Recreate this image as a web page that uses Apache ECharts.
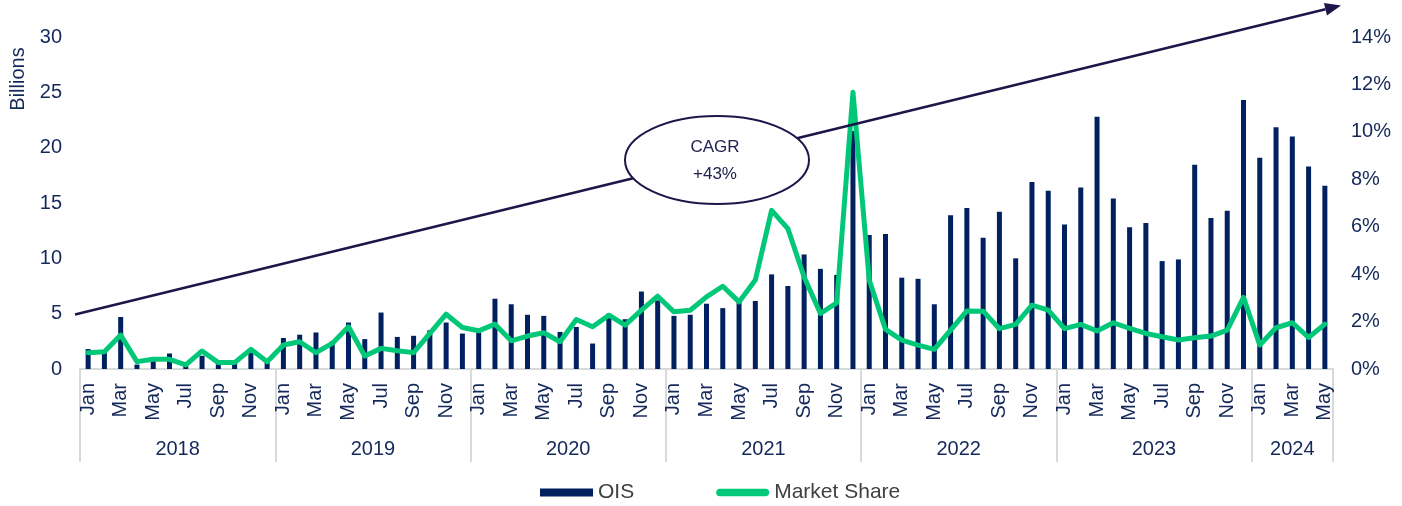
<!DOCTYPE html>
<html>
<head>
<meta charset="utf-8">
<script src="https://cdn.jsdelivr.net/npm/echarts@6/dist/echarts.min.js"></script>
<style>
  html, body { margin: 0; padding: 0; background: #fff; }
  #chart { width: 1402px; height: 506px; }
</style>
</head>
<body>
<div id="chart"></div>
<script>
// month axis: Jan 2018 .. May 2024
const years = ['2018', '2019', '2020', '2021', '2022', '2023', '2024'];
const monthNames = ['Jan', 'Feb', 'Mar', 'Apr', 'May', 'Jun', 'Jul', 'Aug', 'Sep', 'Oct', 'Nov', 'Dec'];
const monthsIn2024 = 5;

// OIS volume, billions
const ois2018 = [1.8, 1.5, 4.7, 0.4, 1.0, 1.4, 0.3, 1.2, 0.8, 0.8, 1.5, 0.6];
const ois2019 = [2.8, 3.1, 3.3, 2.5, 4.2, 2.7, 5.1, 2.9, 3.0, 3.5, 4.2, 3.2];
const ois2020 = [3.3, 6.35, 5.85, 4.9, 4.8, 3.35, 3.8, 2.3, 5.0, 4.5, 7.0, 6.2];
const ois2021 = [4.8, 4.9, 5.9, 5.5, 6.0, 6.15, 8.55, 7.5, 10.35, 9.05, 8.5, 21.5];
const ois2022 = [12.1, 12.2, 8.25, 8.15, 5.85, 13.9, 14.55, 11.85, 14.2, 10.0, 16.9, 16.1];
const ois2023 = [13.05, 16.4, 22.8, 15.4, 12.8, 13.2, 9.75, 9.9, 18.45, 13.65, 14.3, 24.3];
const ois2024 = [19.1, 21.85, 21.0, 18.3, 16.55];

// market share, %
const share2018 = [0.69, 0.73, 1.43, 0.31, 0.41, 0.41, 0.17, 0.76, 0.27, 0.27, 0.83, 0.31];
const share2019 = [1.01, 1.15, 0.69, 1.08, 1.78, 0.55, 0.87, 0.77, 0.69, 1.50, 2.31, 1.75];
const share2020 = [1.61, 1.89, 1.19, 1.39, 1.53, 1.15, 2.09, 1.78, 2.27, 1.85, 2.48, 3.07];
const share2021 = [2.41, 2.48, 3.04, 3.49, 2.83, 3.75, 6.69, 5.92, 3.88, 2.34, 2.79, 11.67];
const share2022 = [3.75, 1.67, 1.22, 1.01, 0.83, 1.64, 2.45, 2.44, 1.70, 1.88, 2.69, 2.48];
const share2023 = [1.70, 1.88, 1.60, 1.95, 1.71, 1.50, 1.36, 1.22, 1.32, 1.39, 1.64, 3.02];
const share2024 = [1.01, 1.74, 1.95, 1.33, 1.89];

const leftTicks = { min: 0, max: 30, interval: 5 };
const rightTicks = { min: 0, max: 14, interval: 2 };
const cagrText = 'CAGR\n+43%';

const categories = [];
years.forEach((y) => {
  const n = y === '2024' ? monthsIn2024 : 12;
  for (let m = 0; m < n; m++) categories.push(monthNames[m] + ' ' + y);
});
const ois = [].concat(ois2018, ois2019, ois2020, ois2021, ois2022, ois2023, ois2024);
const share = [].concat(share2018, share2019, share2020, share2021, share2022, share2023, share2024);

const NAVY = '#002060';
const INK = '#14285a';
const GREEN = '#00c878';
const ARROW = '#1d1649';
const FONT = 'Liberation Sans, Arial, sans-serif';

// arrow geometry (annotation)
const a0 = [75, 314.5], tip = [1341, 5.5];
const dx = tip[0] - a0[0], dy = tip[1] - a0[1];
const len = Math.hypot(dx, dy);
const ux = dx / len, uy = dy / len;
const headLen = 16, headHalf = 6.5;
const base = [tip[0] - headLen * ux, tip[1] - headLen * uy];

const chart = echarts.init(document.getElementById('chart'));
chart.setOption({
  backgroundColor: '#fff',
  animation: false,
  textStyle: { fontFamily: FONT },
  grid: { left: 80, right: 69, top: 37, bottom: 137, containLabel: false },
  legend: {
    left: 540,
    top: 482,
    padding: 0,
    itemWidth: 53,
    itemHeight: 8,
    itemGap: 82,
    textStyle: { fontSize: 21, color: '#404040', fontFamily: FONT },
    data: [
      { name: 'OIS', icon: 'rect' },
      { name: 'Market Share', icon: 'path://M4,0 L52,0 A4,4 0 0 1 52,8 L4,8 A4,4 0 0 1 4,0 Z' },
    ],
  },
  xAxis: [
    {
      type: 'category',
      data: categories,
      axisLine: { lineStyle: { color: '#d9d9d9', width: 2 } },
      axisTick: {
        show: true,
        length: 93,
        interval: (i) => i % 12 === 0,
        lineStyle: { color: '#d9d9d9', width: 2 },
      },
      axisLabel: {
        interval: 1,
        rotate: 90,
        margin: 14,
        fontSize: 20,
        color: INK,
        fontFamily: FONT,
        formatter: (v) => v.split(' ')[0],
      },
    },
    {
      type: 'category',
      data: categories,
      position: 'bottom',
      axisLine: { show: false },
      axisTick: { show: false },
      axisLabel: {
        interval: 0,
        margin: 70,
        fontSize: 20,
        color: INK,
        fontFamily: FONT,
        formatter: (v) => {
          const [m, y] = v.split(' ');
          if (y === '2024') return m === 'Mar' ? '{c|' + y + '}' : '';
          return m === 'Jul' ? '{s|' + y + '}' : '';
        },
        rich: {
          c: { fontSize: 20, color: INK, fontFamily: FONT },
          s: { fontSize: 20, color: INK, fontFamily: FONT, padding: [0, 16.3, 0, 0] },
        },
      },
    },
  ],
  yAxis: [
    {
      type: 'value',
      ...leftTicks,
      axisLine: { show: false },
      axisTick: { show: false },
      splitLine: { show: false },
      axisLabel: { fontSize: 20, color: INK, margin: 18, fontFamily: FONT },
    },
    {
      type: 'value',
      ...rightTicks,
      position: 'right',
      axisLine: { show: false },
      axisTick: { show: false },
      splitLine: { show: false },
      axisLabel: { fontSize: 20, color: INK, margin: 18, fontFamily: FONT, formatter: '{value}%' },
    },
  ],
  series: [
    {
      name: 'OIS',
      type: 'bar',
      data: ois,
      barWidth: 5,
      itemStyle: { color: NAVY },
      z: 1,
    },
    {
      name: 'Market Share',
      type: 'line',
      yAxisIndex: 1,
      data: share,
      symbol: 'none',
      lineStyle: { color: GREEN, width: 5, cap: 'round', join: 'round' },
      itemStyle: { color: GREEN },
      z: 2,
    },
  ],
  graphic: [
    {
      type: 'line',
      z: 10,
      shape: { x1: a0[0], y1: a0[1], x2: base[0], y2: base[1] },
      style: { stroke: ARROW, lineWidth: 2.5 },
    },
    {
      type: 'polygon',
      z: 10,
      shape: {
        points: [
          tip,
          [base[0] - headHalf * uy, base[1] + headHalf * ux],
          [base[0] + headHalf * uy, base[1] - headHalf * ux],
        ],
      },
      style: { fill: ARROW },
    },
    {
      type: 'ellipse',
      z: 11,
      shape: { cx: 717, cy: 160, rx: 92, ry: 44 },
      style: { fill: '#fff', stroke: ARROW, lineWidth: 2 },
    },
    {
      type: 'text',
      z: 12,
      x: 715,
      y: 161,
      style: {
        text: cagrText,
        fill: '#23214f',
        font: '17px ' + FONT,
        align: 'center',
        verticalAlign: 'middle',
        lineHeight: 27,
      },
    },
    {
      type: 'text',
      x: 18,
      y: 79,
      rotation: Math.PI / 2,
      style: {
        text: 'Billions',
        fill: INK,
        font: '20px ' + FONT,
        align: 'center',
        verticalAlign: 'middle',
      },
    },
  ],
});
</script>
</body>
</html>
